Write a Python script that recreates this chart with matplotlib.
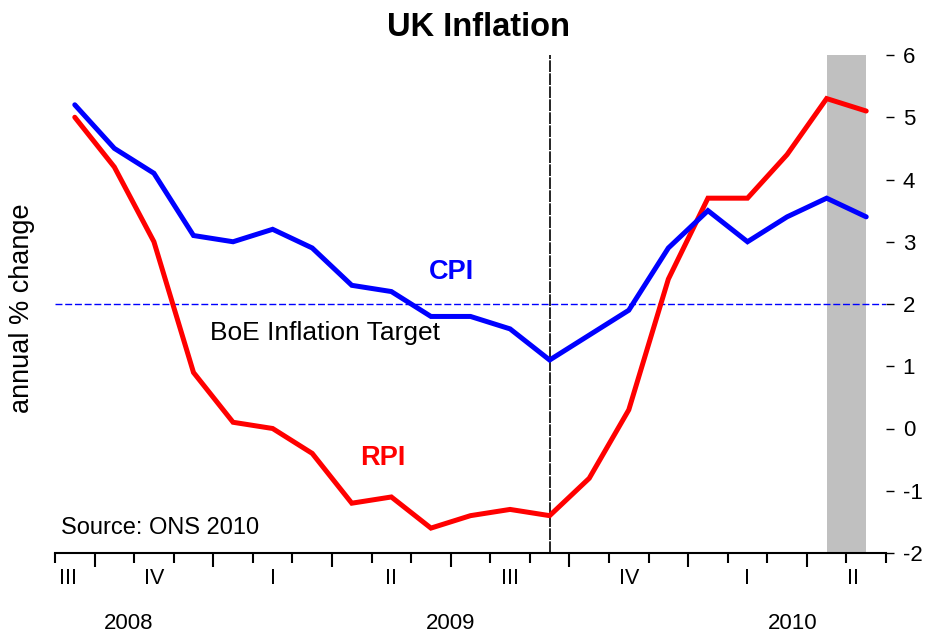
import matplotlib
matplotlib.use("Agg")
import matplotlib.pyplot as plt
from matplotlib.transforms import blended_transform_factory

plt.rcParams['font.family'] = ['Liberation Sans', 'DejaVu Sans']

# Monthly data, Sep 2008 .. May 2010
months = ["Sep08", "Oct08", "Nov08", "Dec08", "Jan09", "Feb09", "Mar09", "Apr09",
          "May09", "Jun09", "Jul09", "Aug09", "Sep09", "Oct09", "Nov09", "Dec09",
          "Jan10", "Feb10", "Mar10", "Apr10", "May10"]
cpi = [5.2, 4.5, 4.1, 3.1, 3.0, 3.2, 2.9, 2.3, 2.2, 1.8, 1.8, 1.6, 1.1, 1.5, 1.9,
       2.9, 3.5, 3.0, 3.4, 3.7, 3.4]
rpi = [5.0, 4.2, 3.0, 0.9, 0.1, 0.0, -0.4, -1.2, -1.1, -1.6, -1.4, -1.3, -1.4,
       -0.8, 0.3, 2.4, 3.7, 3.7, 4.4, 5.3, 5.1]
target = 2.0
quarter_labels = ["III", "IV", "I", "II", "III", "IV", "I", "II"]
quarter_label_pos = [-0.17, 2, 5, 8, 11, 14, 17, 19.67]   # in month index units
quarter_bounds = [0.5, 3.5, 6.5, 9.5, 12.5, 15.5, 18.5]   # month boundaries starting a quarter
year_labels = ["2008", "2009", "2010"]
year_label_pos = [1.35, 9.5, 18.15]
vline_month = 12          # Sep 2009
shade_months = (19, 20)   # Apr-May 2010
yticks = [-2, -1, 0, 1, 2, 3, 4, 5, 6]

x = list(range(len(months)))

fig = plt.figure(figsize=(9.26, 6.35), dpi=100)
ax = fig.add_axes([55/926, 1-553/635, (886-55)/926, (553-55)/635])

ax.axvspan(shade_months[0], shade_months[1], ymin=0, ymax=1, color='#c0c0c0', lw=0, zorder=0)
ax.axhline(target, color='blue', lw=1.0, ls=(0, (5, 2)), zorder=1)
ax.axvline(vline_month, color='black', lw=1.2, ls=(0, (7, 0.8)), zorder=1)

ax.plot(x, rpi, color='#ff0000', lw=3.6, solid_joinstyle='miter', solid_capstyle='round', zorder=3)
ax.plot(x, cpi, color='#0000ff', lw=3.6, solid_joinstyle='miter', solid_capstyle='round', zorder=4)

ax.set_xlim(-0.5, len(months) - 0.5)
ax.set_ylim(-2, 6)

for s in ['left', 'right', 'top']:
    ax.spines[s].set_visible(False)
ax.spines['bottom'].set_linewidth(1.5)

ax.yaxis.tick_right()
ax.set_yticks(yticks)
ax.set_yticklabels([str(v) for v in yticks], fontsize=16)
ax.tick_params(axis='y', direction='out', length=6, width=1.0, pad=6)

# month boundary ticks
boundaries = [i - 0.5 for i in range(len(months) + 1)]
minor_b = [b for b in boundaries if b not in quarter_bounds]
ax.set_xticks(quarter_bounds)
ax.set_xticklabels([])
ax.set_xticks(minor_b, minor=True)
ax.tick_params(axis='x', which='major', direction='out', length=10, width=1.5)
ax.tick_params(axis='x', which='minor', direction='out', length=7, width=1.5)

trans = blended_transform_factory(ax.transData, ax.transAxes)
for lab, p in zip(quarter_labels, quarter_label_pos):
    ax.text(p, -0.052, lab, transform=trans, ha='center', va='center', fontsize=15.5)
for lab, p in zip(year_labels, year_label_pos):
    ax.text(p, -0.142, lab, transform=trans, ha='center', va='center', fontsize=16)

ax.text(9.53, 2.51, "CPI", color='#0000ff', fontsize=19.5, fontweight='bold', ha='center', va='center')
ax.text(7.79, -0.47, "RPI", color='#ff0000', fontsize=19.5, fontweight='bold', ha='center', va='center')
ax.text(6.32, 1.53, "BoE Inflation Target", color='black', fontsize=19, ha='center', va='center')
ax.text(-0.35, -1.6, "Source: ONS 2010", color='black', fontsize=17, ha='left', va='center')

fig.text(22/926, 1-308/635, "annual % change", rotation=90, fontsize=19.5, ha='center', va='center')
fig.text(478/926, 1-28/635, "UK Inflation", fontsize=23.5, fontweight='bold', ha='center', va='center')

fig.savefig("out.png", dpi=100)
